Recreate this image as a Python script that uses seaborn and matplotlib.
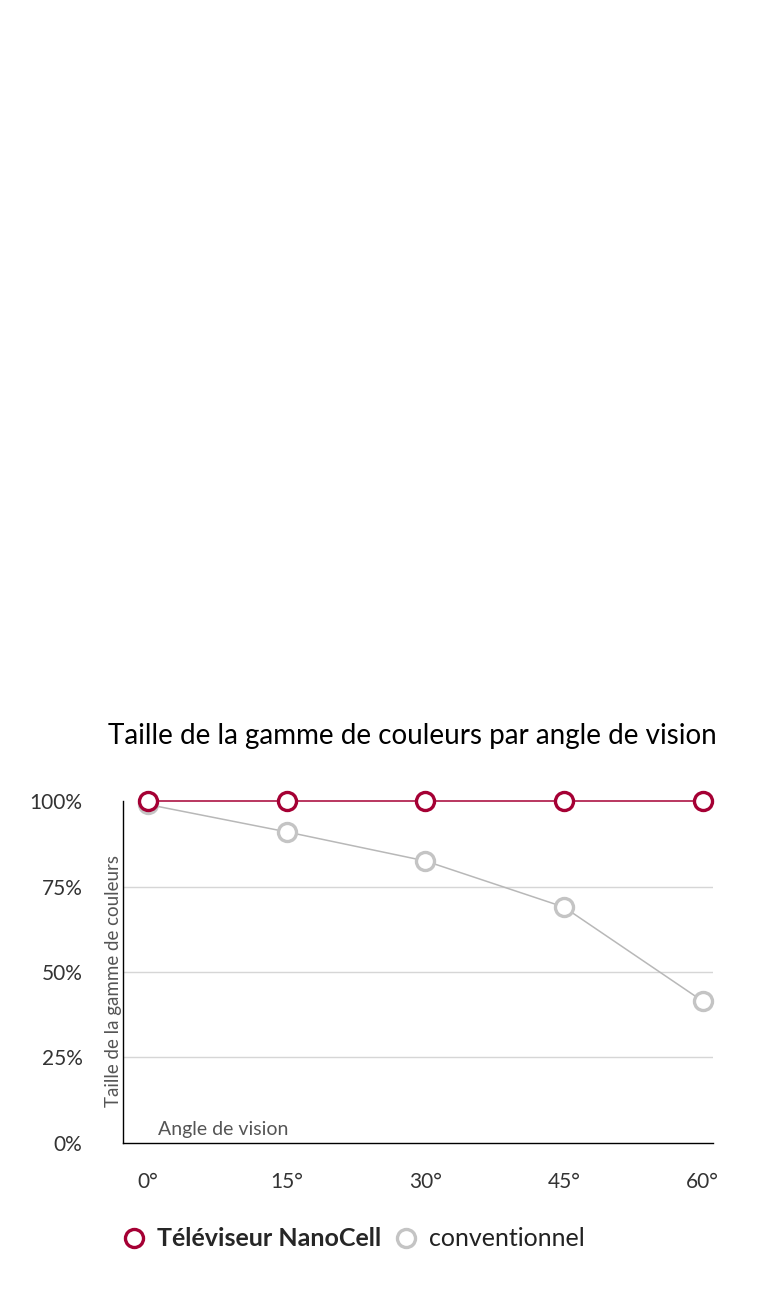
import numpy as np
import pandas as pd
import seaborn as sns
from matplotlib import pyplot as plt

# data
angles = [0, 15, 30, 45, 60]
angle_labels = ["0°", "15°", "30°", "45°", "60°"]
nanocell = [100, 100, 100, 100, 100]
conventional = [99, 91, 82.5, 69, 41.5]
series_names = ["Téléviseur NanoCell", "conventionnel"]
y_ticks = [0, 25, 50, 75, 100]
y_labels = ["0%", "25%", "50%", "75%", "100%"]

RED = "#a50034"
GREY = "#c4c4c4"

sns.set_style("white")
plt.rcParams['font.family'] = ['Lato', 'DejaVu Sans']

df = pd.DataFrame({
    "angle": angles * 2,
    "value": conventional + nanocell,
    "series": [series_names[1]] * 5 + [series_names[0]] * 5,
})

fig = plt.figure(figsize=(7.68, 13.0), dpi=100)
ax = fig.add_axes([0.160, 0.1208, 0.768, 0.263])

sns.lineplot(data=df, x="angle", y="value", hue="series",
             hue_order=[series_names[1], series_names[0]],
             palette={series_names[0]: RED, series_names[1]: "#b8b8b8"},
             marker="o", markersize=13, markerfacecolor="white",
             markeredgewidth=2.4, linewidth=1.1, ax=ax, legend=False)

conv_line, nano_line = ax.get_lines()[:2]
conv_line.set_markeredgecolor(GREY)
nano_line.set_markeredgecolor(RED)
conv_line.set_zorder(4)
nano_line.set_zorder(5)
for ln in (conv_line, nano_line):
    ln.set_clip_on(False)

# grid lines behind the data
for v in [25, 50, 75]:
    ax.axhline(v, color="#d6d6d6", lw=1, zorder=0)

ax.set_xlim(-2.7, 61.1)
ax.set_ylim(0, 100)
ax.set_yticks(y_ticks)
ax.set_yticklabels(y_labels)
ax.set_xticks(angles)
ax.set_xticklabels(angle_labels)
ax.tick_params(axis="y", length=0, pad=29, labelsize=15, labelcolor="#333333")
ax.tick_params(axis="x", length=0, pad=21, labelsize=15, labelcolor="#333333")

ax.spines["top"].set_visible(False)
ax.spines["right"].set_visible(False)
ax.spines["left"].set_color("black")
ax.spines["bottom"].set_color("black")
ax.spines["left"].set_linewidth(1)
ax.spines["bottom"].set_linewidth(1)

ax.set_xlabel("")
ax.set_ylabel("Taille de la gamme de couleurs", fontsize=13.5, color="#555555")
ax.yaxis.set_label_coords(-0.001, 0.474)
ax.text(0.06, 0.015, "Angle de vision", transform=ax.transAxes, fontsize=14,
        color="#555555", ha="left", va="bottom")

fig.text(0.537, 0.434, "Taille de la gamme de couleurs par angle de vision",
         ha="center", va="center", fontsize=20, color="black")

leg = ax.legend([nano_line, conv_line], series_names, loc="center left",
                bbox_to_anchor=(0.175, 0.047), bbox_transform=fig.transFigure,
                ncol=2, frameon=False, handlelength=0, handletextpad=0.9,
                columnspacing=1.0, fontsize=18, borderpad=0, borderaxespad=0)
for h in leg.legend_handles:
    h.set_markersize(13)
    h.set_linestyle("none")
leg.get_texts()[0].set_fontweight("bold")
leg.get_texts()[1].set_color("#222222")

fig.savefig("out.png", dpi=100, facecolor="white")
